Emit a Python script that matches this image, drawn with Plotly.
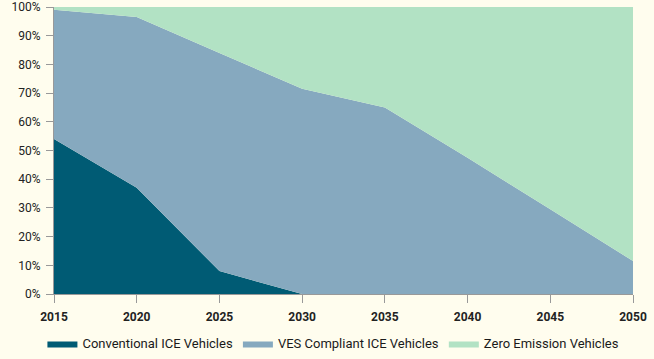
import plotly.graph_objects as go

years = [2015, 2020, 2025, 2030, 2035, 2040, 2045, 2050]
conventional = [54, 37, 8, 0, 0, 0, 0, 0]
ves = [45, 59.5, 76, 71.5, 65, 47.5, 29.5, 11.5]
zev = [1, 3.5, 16, 28.5, 35, 52.5, 70.5, 88.5]
y_ticks = [0, 10, 20, 30, 40, 50, 60, 70, 80, 90, 100]
y_labels = [f"{v}%" for v in y_ticks]

fig = go.Figure()
series = [
    ("Conventional ICE Vehicles", conventional, "#005b74"),
    ("VES Compliant ICE Vehicles", ves, "#86a9bf"),
    ("Zero Emission Vehicles", zev, "#b2e2c4"),
]
for name, vals, col in series:
    fig.add_trace(go.Scatter(
        x=years, y=vals, name=name, mode="lines", stackgroup="one",
        line=dict(width=0, color=col), fillcolor=col,
    ))

fig.update_layout(
    width=654, height=359,
    margin=dict(l=54, r=21, t=7, b=65, autoexpand=False),
    paper_bgcolor="#fffdee", plot_bgcolor="#fffdee",
    font=dict(family="Roboto", size=12, color="#222222"),
    showlegend=True,
    legend=dict(orientation="h", x=-0.02, xanchor="left", y=-0.12, yanchor="top",
                font=dict(size=13, color="#1a1a1a"), traceorder="normal", itemwidth=30,
                bgcolor="rgba(0,0,0,0)"),
    xaxis=dict(range=[2015, 2050], tickvals=years, showgrid=False, zeroline=False,
               showline=True, linecolor="#999999", ticks="outside", ticklen=8,
               tickcolor="#999999", automargin=False, ticklabelstandoff=4,
               tickfont=dict(size=12, family="Roboto", weight="bold")),
    yaxis=dict(range=[0, 100], tickvals=y_ticks, ticktext=y_labels, showgrid=False,
               zeroline=False, showline=True, linecolor="#999999", ticks="outside",
               ticklen=7, tickcolor="#999999", automargin=False, ticklabelstandoff=3,
               tickfont=dict(size=12)),
)
fig.write_html("out.html", config={"displayModeBar": False},
               post_script="document.body.style.margin='0';")
